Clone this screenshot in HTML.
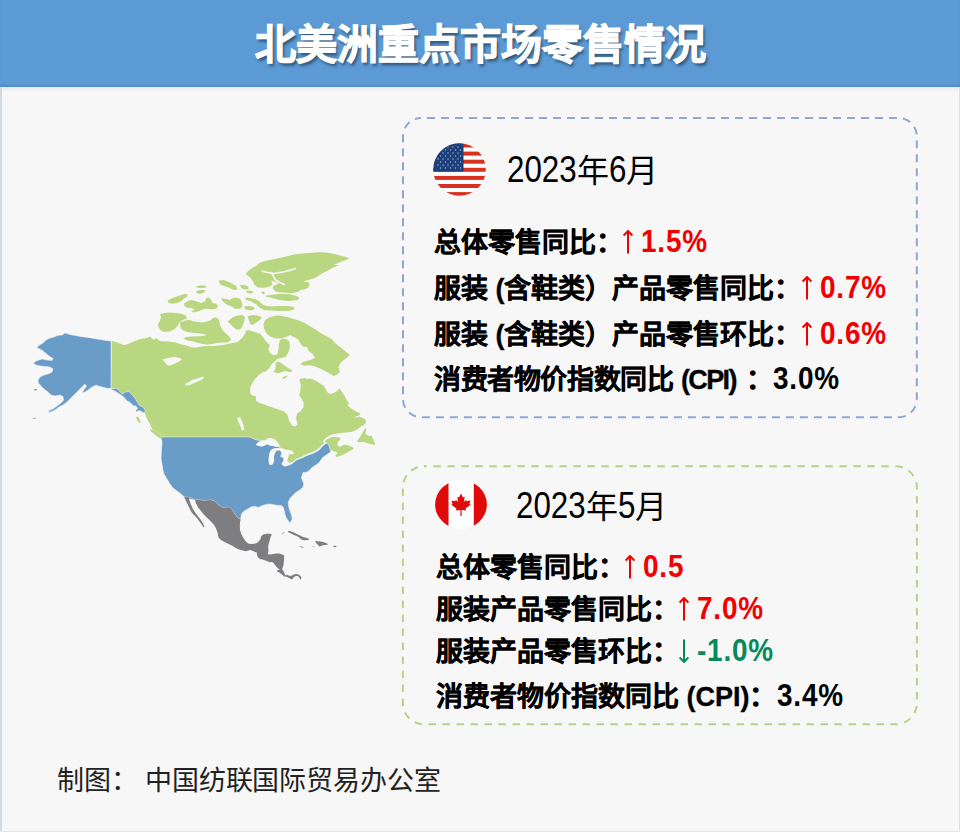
<!DOCTYPE html>
<html lang="zh-CN">
<head>
<meta charset="utf-8">
<style>
html,body{margin:0;padding:0;}
body{width:960px;height:832px;overflow:hidden;background:#f7f7f7;font-family:"Liberation Sans",sans-serif;position:relative;}
.map{position:absolute;left:0;top:0;}
.lstrip{position:absolute;left:0;top:87px;width:2px;height:745px;background:#d3dae4;}
.bstrip{position:absolute;left:0;top:831px;width:960px;height:1px;background:#e4e6ea;}
.rstrip{position:absolute;right:0;top:87px;width:1px;height:745px;background:#dcdfe4;}
.banner{position:absolute;left:0;top:0;width:960px;height:87px;background:#5b9ad5;box-shadow:inset 0 -2px 1px rgba(20,60,120,.12),0 1px 0 rgba(225,236,248,1),0 3px 3px rgba(0,0,0,.05);}
.title{position:absolute;left:0;top:2px;width:960px;height:86px;line-height:86px;text-align:center;color:#fff;font-weight:bold;font-size:41px;-webkit-text-stroke:1.1px #fff;text-shadow:2px 3px 3px rgba(0,0,0,.45);}
.cards{position:absolute;left:0;top:0;}
.flag{position:absolute;}
.date{position:absolute;font-size:32px;line-height:40px;color:#000;white-space:nowrap;}
.date .n{font-size:36px;display:inline-block;transform:scaleX(0.87);transform-origin:0 0;}
.date .n4{margin-right:-10.4px;}
.date .n1{margin-right:-2.6px;}
.ln{position:absolute;font-size:27px;line-height:40px;font-weight:bold;-webkit-text-stroke:0.3px currentColor;color:#000;white-space:nowrap;}
.ln .n{font-size:31px;letter-spacing:0.9px;-webkit-text-stroke:0;display:inline-block;transform:scaleX(0.9);transform-origin:0 0;}
.ln .p{letter-spacing:-1.6px;}
.ar{display:inline-block;width:10px;height:24px;margin:0 8px 0 0;vertical-align:-2px;}
.red{color:#f00000;}
.grn{color:#078a5b;}
.foot{position:absolute;top:761px;font-size:27px;line-height:40px;color:#222;white-space:nowrap;}
</style>
</head>
<body>
<div class="banner"></div>
<div class="title">北美洲重点市场零售情况</div>
<div class="lstrip"></div>
<div class="rstrip"></div>
<div class="bstrip"></div>
<svg class="map" width="960" height="832" viewBox="0 0 960 832">
<g fill="#b8d780" stroke="none">
<path d="M111.6,341.0 L116.0,342.0 L120.0,343.6 L124.0,345.0 L128.0,344.0 L131.0,342.4 L135.0,341.0 L139.0,339.6 L143.0,338.4 L147.0,338.0 L150.0,336.4 L152.0,338.4 L154.0,340.0 L156.0,338.0 L158.0,339.6 L160.0,341.0 L164.0,341.6 L168.0,341.2 L172.0,342.0 L176.0,342.4 L180.0,344.0 L184.0,345.0 L188.0,346.0 L191.2,347.5 L196.2,347.5 L202.5,346.2 L207.5,346.0 L212.5,346.2 L217.5,345.6 L222.5,345.0 L227.5,344.0 L232.5,343.1 L237.5,341.9 L242.5,337.5 L245.0,333.8 L246.2,330.6 L248.8,330.0 L252.5,331.2 L256.2,332.5 L260.0,333.8 L262.5,336.2 L265.0,340.0 L267.5,343.1 L270.0,345.0 L268.5,349.0 L270.0,353.0 L274.0,355.5 L277.5,354.0 L278.5,349.0 L278.8,344.0 L280.0,340.0 L283.0,338.5 L287.0,339.5 L289.5,342.0 L290.0,347.0 L288.5,352.0 L286.0,356.5 L283.4,357.5 L277.2,359.0 L272.5,363.2 L268.9,368.4 L265.7,371.4 L262.4,372.4 L259.2,374.6 L256.0,377.9 L252.7,382.2 L250.6,386.5 L250.0,391.9 L251.6,395.2 L256.0,396.2 L256.0,400.6 L259.2,402.7 L265.7,404.9 L271.1,407.1 L277.6,409.2 L284.1,411.4 L287.3,414.6 L288.9,420.1 L291.7,425.5 L294.9,426.5 L297.6,424.4 L296.0,417.9 L297.1,413.6 L300.3,411.4 L303.6,407.1 L303.6,402.7 L301.4,398.4 L299.2,395.2 L300.3,390.8 L300.9,385.4 L299.2,378.9 L305.7,377.9 L306.0,379.0 L310.0,378.4 L314.0,380.0 L318.0,382.0 L321.0,384.0 L324.0,386.0 L326.0,390.0 L328.0,393.0 L331.0,394.0 L334.0,393.0 L337.0,391.0 L339.0,389.0 L339.5,388.4 L341.1,390.6 L343.3,393.8 L345.4,397.6 L347.6,401.4 L349.2,403.5 L347.6,405.2 L349.8,407.3 L351.9,408.9 L354.1,410.6 L356.2,411.6 L358.9,412.7 L360.6,413.8 L358.9,415.4 L356.2,416.5 L353.6,418.1 L355.7,417.6 L358.9,416.5 L361.7,417.6 L364.4,418.7 L366.0,420.8 L365.4,423.6 L363.3,425.2 L360.6,426.8 L357.9,428.9 L355.2,430.6 L351.9,431.7 L348.7,432.2 L345.4,432.5 L342.2,432.7 L338.9,433.3 L335.7,433.8 L332.4,434.4 L329.8,435.4 L327.0,437.1 L324.3,439.2 L322.9,441.4 L330.7,451.2 L329.7,448.6 L328.6,445.0 L327.1,443.4 L324.5,444.0 L321.9,446.0 L319.8,448.6 L316.7,451.0 L312.5,453.1 L308.3,454.4 L304.0,456.4 L299.8,457.9 L296.7,459.5 L294.6,461.2 L291.5,463.3 L287.3,464.7 L284.2,463.1 L285.7,461.0 L286.2,455.8 L284.2,450.6 L279.5,447.5 L278.4,445.4 L276.0,444.5 L270.6,442.8 L265.6,440.8 L260.4,440.8 L256.2,439.8 L253.1,438.5 L250.0,437.0 L161.0,437.0 L163.0,436.0 L160.0,434.0 L156.0,432.0 L152.0,429.0 L150.0,424.0 L147.0,419.0 L145.0,414.0 L144.0,410.0 L145.1,412.3 L144.6,409.1 L142.5,407.0 L139.4,405.4 L137.3,402.3 L135.2,398.7 L132.1,395.0 L129.0,391.6 L125.8,391.9 L122.2,394.2 L118.5,390.3 L117.0,388.2 L111.2,388.8Z"/>
<path d="M324.7,441.6 L327.0,439.2 L329.8,437.9 L332.4,437.1 L335.7,436.9 L338.9,437.3 L340.6,438.7 L338.4,441.4 L337.3,443.6 L337.9,445.7 L340.0,446.8 L342.2,445.7 L344.4,444.6 L347.6,445.2 L349.8,446.3 L351.9,446.8 L353.6,448.4 L351.9,450.1 L349.8,451.1 L347.6,452.2 L345.4,453.3 L343.3,454.4 L341.1,455.5 L338.4,456.5 L336.8,457.1 L335.2,456.0 L336.2,454.4 L337.9,453.3 L335.7,451.7 L333.5,450.9 L331.4,450.6 L330.3,449.5 L329.2,446.8 L328.7,444.6 L327.0,443.6Z"/>
<path d="M356.8,441.4 L358.4,439.2 L360.6,436.0 L362.2,433.3 L363.8,430.6 L364.9,428.4 L366.0,427.3 L366.2,430.0 L365.4,432.7 L366.5,434.9 L369.2,436.0 L371.4,435.4 L372.5,437.6 L373.6,440.3 L375.2,443.6 L374.6,445.2 L372.5,444.6 L370.3,444.1 L368.1,443.6 L366.0,442.5 L363.8,441.9 L360.6,442.3 L358.4,442.3Z"/>
<path d="M150.0,429.0 L153.0,430.0 L158.0,433.0 L163.0,436.0 L166.0,439.0 L165.6,442.0 L162.4,440.0 L158.0,437.0 L153.6,433.6 L150.4,431.0Z"/>
<path d="M136.0,417.0 L138.0,416.4 L140.0,420.0 L141.0,423.0 L139.0,422.4 L137.0,420.0Z"/>
<path d="M160.0,314.0 L164.0,313.0 L170.0,312.4 L176.0,313.0 L182.0,314.0 L186.0,315.6 L187.0,318.4 L183.0,320.0 L180.0,322.0 L178.0,325.0 L176.0,328.0 L173.0,330.0 L169.0,331.6 L164.0,332.0 L161.0,330.4 L158.4,327.0 L158.0,324.0 L160.0,321.0 L161.0,317.0Z"/>
<path d="M180.0,322.5 L185.0,320.6 L190.0,320.0 L192.5,321.2 L197.5,321.9 L202.5,322.5 L207.5,321.2 L211.2,320.0 L212.5,318.1 L216.2,317.5 L218.8,319.4 L220.0,325.0 L222.5,330.0 L226.2,333.8 L230.0,337.5 L231.2,340.0 L227.5,342.5 L222.5,342.5 L217.5,343.1 L212.5,344.0 L207.5,344.4 L202.5,344.0 L197.5,342.8 L192.5,341.2 L187.5,340.6 L183.8,338.8 L185.6,336.9 L191.2,336.5 L200.0,336.2 L207.5,335.0 L202.5,333.8 L195.0,333.1 L187.5,331.9 L183.1,330.6 L180.6,328.1Z"/>
<path d="M167.5,300.6 L172.5,298.1 L177.5,296.2 L182.5,294.4 L186.9,293.8 L187.5,296.2 L183.8,298.8 L181.2,301.2 L177.5,303.1 L172.5,303.8 L168.8,303.1Z"/>
<path d="M183.8,303.8 L187.5,301.2 L191.2,300.0 L196.2,301.2 L201.2,303.1 L205.0,301.2 L206.2,298.1 L208.8,297.5 L211.2,300.0 L212.5,303.1 L216.2,303.8 L218.1,306.2 L216.2,308.8 L211.2,309.4 L206.2,308.8 L202.5,309.4 L198.8,311.2 L193.8,312.5 L191.2,311.2 L195.0,309.4 L191.2,308.1 L186.2,307.5 L184.4,305.6Z"/>
<path d="M195.0,286.9 L200.0,285.6 L205.0,285.6 L206.9,286.9 L203.8,288.1 L198.8,288.1Z"/>
<path d="M196.2,291.2 L200.0,290.0 L205.0,290.0 L204.4,292.5 L200.0,294.0 L196.9,293.1Z"/>
<path d="M256.5,265.5 L259.9,262.8 L264.5,261.2 L269.1,260.1 L274.8,258.9 L280.5,257.8 L286.2,256.5 L292.0,254.9 L297.7,254.1 L303.4,253.4 L309.2,253.0 L314.9,252.4 L320.6,252.2 L326.4,252.5 L332.1,253.6 L337.8,254.8 L343.5,256.5 L349.5,258.0 L346.4,259.7 L341.8,261.5 L337.2,263.5 L333.8,264.7 L338.4,264.9 L336.1,266.3 L331.5,268.6 L326.9,270.9 L322.7,273.1 L319.2,275.4 L315.8,277.5 L311.2,279.2 L306.6,280.4 L302.9,281.2 L308.6,282.3 L309.7,284.9 L308.2,287.6 L304.6,289.5 L300.2,290.1 L298.9,291.5 L295.4,292.6 L292.0,293.3 L288.5,293.0 L284.0,292.6 L279.4,292.2 L275.9,291.5 L273.6,289.5 L272.5,287.8 L273.6,285.8 L276.9,284.4 L278.8,283.2 L275.9,282.1 L272.5,280.9 L269.1,280.0 L263.9,278.6 L259.3,277.7 L255.3,276.6 L251.3,275.9 L247.9,275.4 L245.9,274.5 L247.1,272.0 L249.6,269.7 L253.0,267.4Z"/>
<path d="M246.7,274.6 L249.6,276.9 L253.0,280.9 L254.2,284.4 L257.6,287.2 L263.3,287.8 L269.1,286.7 L272.5,284.4 L271.4,280.9 L267.9,278.6 L263.3,276.9 L258.8,275.8 L254.2,275.4 L249.6,275.0Z"/>
<path d="M265.6,295.8 L270.2,294.9 L274.8,294.5 L279.4,294.1 L284.0,293.9 L288.5,294.1 L293.1,294.9 L297.7,296.4 L299.4,298.1 L297.7,299.9 L293.1,300.6 L288.5,301.0 L284.0,300.6 L279.4,299.9 L274.8,298.7 L270.2,297.6 L266.2,296.8Z"/>
<path d="M218.8,280.6 L223.8,280.0 L228.8,281.9 L232.5,283.8 L236.2,286.2 L237.5,289.4 L233.8,290.0 L228.8,287.5 L225.0,286.2 L221.2,285.0 L219.4,283.1Z"/>
<path d="M240.0,285.0 L243.8,284.8 L248.1,286.2 L248.8,288.8 L245.0,289.8 L241.2,288.1Z"/>
<path d="M221.2,298.1 L225.0,298.8 L230.0,300.0 L232.5,298.1 L236.2,297.5 L240.0,298.8 L241.9,302.5 L242.5,306.2 L240.0,308.8 L235.0,308.8 L231.2,306.2 L227.5,305.0 L225.0,303.1 L222.5,301.2Z"/>
<path d="M245.0,297.6 L250.0,298.0 L255.0,299.0 L259.0,301.0 L262.0,304.0 L266.0,306.0 L272.0,306.4 L280.0,306.0 L288.0,306.0 L294.0,307.0 L294.4,309.6 L288.0,311.0 L280.0,311.0 L272.0,310.6 L264.0,310.0 L260.0,308.0 L257.0,305.0 L254.0,303.0 L250.0,301.0 L246.0,300.0Z"/>
<path d="M244.0,306.4 L249.0,306.0 L254.0,307.0 L254.4,309.6 L250.0,310.4 L245.0,309.2Z"/>
<path d="M227.5,321.2 L232.5,317.5 L237.5,315.6 L242.5,315.0 L245.0,317.5 L243.8,322.5 L242.5,326.2 L240.0,329.4 L236.2,329.4 L232.5,326.2 L230.0,323.8Z"/>
<path d="M247.5,316.2 L252.5,315.0 L257.5,315.6 L261.9,316.9 L260.0,320.0 L256.2,322.5 L252.5,325.0 L250.0,323.8 L248.8,320.0Z"/>
<path d="M261.0,292.0 L263.6,291.6 L265.2,293.2 L263.0,294.4Z"/>
<path d="M246.0,291.0 L250.0,290.6 L254.0,292.0 L251.0,293.4 L247.0,293.0Z"/>
<path d="M265.0,320.0 L269.0,317.6 L274.0,316.0 L279.0,315.6 L284.0,316.4 L289.0,317.6 L294.0,319.0 L299.0,320.4 L303.6,322.4 L308.0,325.0 L313.0,328.0 L317.6,331.0 L322.4,334.0 L327.0,336.4 L331.6,339.0 L335.0,343.0 L340.0,347.0 L345.0,351.0 L350.0,355.0 L347.0,357.6 L343.0,360.4 L340.0,363.6 L338.4,367.6 L340.0,372.0 L337.0,374.4 L333.6,376.0 L330.4,374.0 L327.0,372.0 L323.0,370.0 L319.0,368.0 L315.0,366.4 L311.0,365.4 L307.0,365.4 L303.0,365.6 L300.4,364.0 L303.0,362.0 L307.6,360.8 L312.0,359.6 L315.0,357.6 L313.0,354.4 L309.6,351.6 L305.6,348.4 L302.0,345.6 L300.0,342.4 L297.6,339.0 L293.6,337.0 L290.0,335.0 L286.0,337.0 L281.0,338.5 L276.0,338.5 L270.0,336.5 L266.0,333.0 L264.0,328.0 L263.5,324.0Z"/>
<path d="M275.6,362.2 L278.8,361.7 L281.9,363.8 L285.0,365.8 L288.1,367.9 L291.8,370.0 L292.3,371.6 L289.2,372.1 L285.0,371.0 L281.9,372.1 L278.2,373.6 L275.1,372.6 L273.0,371.8 L275.1,370.0 L275.6,366.9Z"/>
<path d="M282.4,377.6 L285.0,376.0 L287.6,375.5 L287.1,376.8 L284.5,378.6 L282.9,378.9Z"/>
</g>
<g fill="#6a9cc8" stroke="#f7f7f7" stroke-width="0.5">
<path d="M111.0,341.0 L106.0,340.4 L100.0,339.6 L94.0,338.4 L88.0,337.4 L80.0,336.4 L76.0,335.6 L72.0,335.0 L67.0,333.6 L65.0,333.0 L62.0,335.0 L57.0,335.6 L54.0,337.0 L50.0,338.0 L46.0,340.0 L43.0,343.0 L38.0,346.0 L37.0,348.0 L40.0,349.0 L43.0,351.0 L46.0,353.6 L49.0,356.0 L53.0,358.4 L52.0,360.4 L47.0,360.0 L42.0,359.0 L39.0,360.0 L35.0,361.6 L33.6,363.6 L36.0,365.0 L40.0,366.0 L45.0,366.4 L50.0,367.0 L53.0,369.0 L52.0,372.0 L48.0,374.0 L44.0,375.0 L40.0,377.0 L38.0,380.0 L38.4,383.0 L41.0,386.0 L44.0,389.0 L48.0,392.0 L51.0,395.0 L55.0,396.0 L60.0,395.0 L63.0,396.4 L63.6,400.0 L61.0,403.0 L57.0,406.0 L53.0,409.0 L50.0,411.0 L48.0,412.0 L50.0,412.4 L55.0,410.0 L59.0,407.0 L63.0,405.0 L67.0,402.0 L70.0,399.0 L73.0,396.0 L76.0,393.0 L80.0,389.0 L83.0,386.0 L85.0,384.0 L86.4,386.4 L83.6,390.0 L82.4,393.0 L86.0,391.6 L90.0,388.4 L93.0,386.4 L96.0,385.2 L100.0,386.4 L104.0,387.6 L108.0,388.4 L111.0,388.4Z"/>
<path d="M111.2,388.7 L117.0,388.2 L118.7,390.3 L122.2,394.1 L125.8,391.8 L129.1,391.6 L132.2,395.0 L135.3,398.7 L137.4,402.3 L139.5,405.4 L142.6,407.0 L144.8,409.2 L145.2,412.3 L143.8,412.8 L141.5,411.4 L138.8,410.4 L136.8,411.9 L135.7,410.4 L137.8,408.3 L135.7,406.0 L133.1,405.7 L131.6,403.9 L129.5,402.1 L126.9,400.8 L123.8,397.1 L121.2,395.0 L118.0,392.9 L114.9,390.9 L111.8,389.8Z"/>
<path d="M161.0,437.0 L250.0,437.0 L253.1,438.5 L256.2,439.8 L260.4,440.8 L265.6,440.8 L270.6,442.8 L276.0,444.5 L278.4,445.4 L279.5,447.5 L284.2,450.6 L286.2,455.8 L285.7,461.0 L284.2,463.1 L287.3,464.7 L291.5,463.3 L294.6,461.2 L296.7,459.5 L299.8,457.9 L304.0,456.4 L308.3,454.4 L312.5,453.1 L316.7,451.0 L319.8,448.6 L321.9,446.0 L324.5,444.0 L327.1,443.4 L328.6,445.0 L329.7,448.6 L330.7,451.2 L330.2,452.3 L327.1,454.4 L324.0,456.5 L321.9,458.5 L319.8,461.7 L317.7,463.8 L314.6,465.8 L311.5,467.9 L308.9,470.9 L305.5,472.6 L303.0,472.6 L301.3,477.7 L303.8,483.6 L303.0,486.9 L300.5,489.4 L295.4,492.8 L290.4,497.9 L288.2,502.1 L288.7,507.1 L290.0,511.3 L291.7,515.5 L292.1,518.9 L290.8,522.2 L289.3,522.2 L286.4,518.0 L285.1,514.7 L284.2,510.5 L283.2,507.1 L281.1,505.4 L277.8,505.4 L273.8,504.8 L270.0,504.0 L266.2,504.4 L262.5,505.6 L260.0,506.5 L258.8,507.5 L256.9,506.9 L255.0,506.2 L251.2,506.9 L248.1,508.8 L245.0,510.6 L242.5,512.5 L241.2,515.0 L240.6,519.0 L240.6,519.4 L238.8,518.5 L236.9,516.9 L235.0,514.4 L233.1,511.2 L231.2,508.8 L228.8,507.1 L226.2,507.5 L223.8,508.1 L221.2,506.9 L218.8,505.0 L216.2,502.5 L213.8,500.8 L210.0,500.0 L205.0,500.5 L198.8,500.0 L195.0,499.5 L191.2,498.2 L187.5,497.1 L183.8,496.5 L181.0,494.0 L177.0,491.0 L173.0,488.0 L170.0,484.0 L167.0,479.0 L164.0,474.0 L163.0,470.0 L162.0,464.0 L161.0,458.0 L161.6,450.0 L162.0,442.0Z"/>
<ellipse cx="35.5" cy="389.8" rx="1.6" ry="0.8" stroke="none"/><path d="M32,419.3 L36,417.3 L35.2,418.8 Z" stroke="none"/><path d="M47.5,411.5 L52.5,408.8 L51,410.6 Z" stroke="none"/>
</g>
<g fill="#7e7e80" stroke="none">
<path d="M183.8,496.5 L187.5,497.1 L191.2,498.2 L195.0,499.5 L198.8,500.0 L205.0,500.5 L210.0,500.0 L213.8,500.8 L216.2,502.5 L218.8,505.0 L221.2,506.9 L223.8,508.1 L226.2,507.5 L228.8,507.1 L231.2,508.8 L233.1,511.2 L235.0,514.4 L236.9,516.9 L238.8,518.5 L240.6,519.4 L240.0,522.5 L239.8,526.2 L240.0,530.0 L241.2,533.8 L243.1,537.5 L245.6,541.2 L248.1,543.5 L251.2,544.0 L254.4,543.8 L256.9,543.1 L258.8,541.2 L260.6,538.8 L261.2,536.2 L263.1,534.4 L266.2,533.8 L270.0,533.8 L271.9,534.4 L270.9,536.2 L270.1,538.8 L269.5,541.2 L268.9,543.1 L268.4,545.0 L268.2,547.8 L268.5,550.6 L268.0,553.1 L267.5,554.1 L270.0,554.5 L273.1,553.9 L276.2,553.6 L279.4,553.6 L282.5,554.5 L284.1,555.6 L284.1,558.1 L283.9,561.2 L283.6,564.4 L282.8,567.5 L282.0,569.1 L283.1,570.6 L284.2,572.5 L284.9,574.4 L285.6,575.3 L287.5,575.1 L290.0,575.9 L291.9,575.6 L293.8,574.5 L295.6,573.9 L298.1,574.2 L300.0,575.5 L301.4,577.5 L300.9,579.5 L300.0,578.9 L299.2,577.5 L298.0,576.1 L296.2,575.9 L294.5,576.6 L293.1,578.2 L291.8,579.5 L290.0,578.6 L288.1,577.6 L286.6,576.8 L285.0,576.6 L284.2,576.4 L283.1,575.6 L281.2,573.9 L279.4,572.6 L277.5,571.7 L276.9,570.3 L280.0,569.5 L278.1,568.6 L276.2,566.4 L274.4,564.2 L273.2,562.6 L271.6,562.0 L269.5,562.2 L267.5,561.2 L265.3,560.6 L262.5,559.5 L260.0,558.9 L258.1,557.6 L257.4,556.2 L257.0,554.4 L256.8,552.5 L255.0,552.0 L252.5,550.8 L250.0,549.9 L246.2,551.2 L242.5,550.6 L238.8,549.4 L235.0,547.5 L231.9,545.6 L228.1,543.8 L224.4,541.9 L221.2,540.0 L218.8,538.1 L218.1,535.6 L217.5,532.5 L216.2,528.8 L214.4,525.6 L211.9,522.5 L209.4,520.0 L206.2,516.9 L203.1,513.8 L200.6,510.6 L198.1,507.5 L196.2,503.8 L195.0,500.0 L191.9,499.0 L189.0,498.5 L189.5,500.6 L190.5,503.5 L191.8,506.5 L193.2,509.4 L195.0,512.2 L197.1,515.0 L199.2,517.8 L201.2,520.5 L203.0,523.2 L204.4,526.2 L203.5,527.2 L201.9,524.8 L199.8,521.9 L197.5,518.8 L195.0,516.0 L192.5,513.5 L190.6,510.4 L189.0,507.2 L187.5,504.0 L186.0,500.9 L184.5,497.8Z"/>
<path d="M288.1,530.8 L290.6,531.2 L293.8,532.5 L296.9,534.1 L300.0,535.6 L303.1,536.9 L306.2,537.8 L309.1,539.1 L308.8,540.1 L305.0,540.3 L302.5,539.9 L300.9,538.9 L299.1,537.4 L296.6,536.1 L293.8,534.9 L290.6,533.2 L288.2,532.2Z"/>
<path d="M315.0,540.8 L317.5,541.2 L320.8,541.5 L324.2,542.3 L327.5,543.8 L327.9,544.8 L325.0,545.0 L321.7,545.4 L319.6,546.7 L318.8,545.8 L317.9,544.8 L316.7,543.8 L315.7,542.3Z"/>
<path d="M333.3,545.7 L335.4,545.8 L336.7,546.5 L335.8,547.1 L333.8,547.1 L333.2,546.5Z"/>
<path d="M299.6,546.2 L301.7,546.5 L303.8,547.3 L302.5,547.7 L300.4,547.1Z"/>
<path d="M311.7,546.5 L314.2,546.2 L315.0,546.7 L312.5,546.8Z"/>
<path d="M281.7,534.2 L284.2,531.7 L284.6,531.9 L282.1,534.4Z"/>
</g>
<g fill="#f7f7f7" stroke="none">
<path d="M162.0,359.6 L168.0,358.0 L174.0,357.0 L180.0,358.0 L182.0,359.6 L178.0,362.0 L174.0,364.0 L170.0,365.6 L167.0,365.0 L165.0,362.0Z"/>
<path d="M185.0,384.0 L189.0,382.0 L192.0,380.0 L196.0,379.0 L200.0,377.6 L204.0,376.4 L203.0,379.0 L199.0,381.0 L194.0,383.0 L190.0,385.0 L186.0,385.6Z"/>
<path d="M237.0,418.0 L240.0,417.0 L242.0,421.0 L243.6,426.0 L244.4,430.0 L242.0,430.4 L240.4,426.0 L238.4,422.0Z"/>
<path d="M256.0,444.6 L257.1,443.1 L258.9,441.7 L261.0,440.8 L263.3,440.6 L265.4,440.2 L267.0,438.9 L268.6,438.0 L270.6,437.9 L273.0,438.4 L275.1,439.6 L276.6,441.0 L277.9,442.8 L279.1,444.6 L279.7,446.2 L279.0,447.1 L276.9,446.9 L274.8,446.4 L272.7,446.0 L270.6,445.9 L269.1,445.2 L267.8,444.6 L265.9,444.9 L264.1,445.7 L262.3,446.5 L260.2,446.4 L258.1,445.7 L256.6,445.4Z"/>
<path d="M269.1,464.2 L268.5,461.0 L268.6,457.9 L269.0,454.8 L269.6,452.4 L270.6,450.4 L272.2,449.1 L274.3,448.3 L276.4,448.0 L278.4,447.9 L280.0,447.8 L282.1,448.3 L284.2,449.1 L286.2,449.8 L288.3,450.1 L290.4,450.4 L292.0,450.6 L293.3,452.2 L293.8,453.8 L292.5,454.3 L290.9,454.0 L289.4,453.8 L288.9,454.8 L288.3,456.9 L287.8,459.0 L287.3,461.0 L289.4,463.1 L291.5,462.6 L293.5,461.6 L295.1,460.0 L296.7,458.7 L298.8,457.9 L300.8,457.1 L302.9,456.4 L304.2,455.8 L304.6,457.1 L301.9,458.3 L299.8,459.1 L297.7,459.7 L296.1,460.4 L295.1,461.3 L293.8,462.6 L292.0,463.9 L289.9,464.9 L287.8,465.8 L285.7,466.4 L283.6,466.1 L282.1,464.9 L281.6,463.4 L282.1,462.3 L283.1,461.6 L283.5,459.5 L283.1,457.9 L282.1,457.1 L281.0,457.4 L280.4,456.4 L280.8,455.1 L281.3,454.0 L281.3,452.7 L280.8,451.4 L279.7,450.6 L278.4,450.4 L277.1,450.6 L275.8,451.4 L275.1,453.0 L274.4,455.1 L274.0,457.4 L274.2,459.5 L273.9,461.8 L273.0,463.9 L271.7,464.9 L270.1,464.9Z"/>
<path d="M302.4,348.0 L305.0,346.4 L308.0,348.0 L307.6,351.0 L304.4,351.6Z"/>
</g>
<g fill="none" stroke="#f7f7f7" stroke-width="1.6" stroke-linecap="round" stroke-linejoin="round">
<path d="M262.2,271.2 L267.9,272.5 L272.5,273.5 L278.2,272.9 L284.0,271.8 L289.7,270.4 L295.4,268.6"/>
<path d="M271.6,272.5 L273.4,276.4 L275.7,280.0 L279.4,282.3 L284.5,284.4"/>
<path d="M303.6,456.2 L308.3,454.5 L312.5,453.0 L316.7,450.9 L319.8,448.5 L321.9,445.9 L324.2,443.9"/>
</g>
</svg>
<svg class="cards" width="960" height="832" viewBox="0 0 960 832">
<rect x="403" y="118.1" width="513.8" height="299.1" rx="18" ry="18" fill="none" stroke="#8ea8d2" stroke-width="2" stroke-dasharray="8 6" stroke-dashoffset="-6"/>
<rect x="402.9" y="466.3" width="514" height="258" rx="21" ry="21" fill="none" stroke="#b5d486" stroke-width="2" stroke-dasharray="7.5 6.5" stroke-dashoffset="-9.5"/>
</svg>

<svg class="flag" style="left:433px;top:143px;" width="53" height="53" viewBox="0 0 53 53">
<defs><clipPath id="cu"><circle cx="26.5" cy="26.5" r="26.3"/></clipPath></defs>
<g clip-path="url(#cu)">
<rect width="53" height="53" fill="#fff"/>
<g fill="#d8311f">
<rect y="0.5" width="53" height="4"/>
<rect y="8.6" width="53" height="4"/>
<rect y="16.7" width="53" height="4"/>
<rect y="24.8" width="53" height="4"/>
<rect y="32.9" width="53" height="4"/>
<rect y="41" width="53" height="4"/>
<rect y="49.1" width="53" height="4"/>
</g>
<rect width="30.5" height="28.6" fill="#1d3f7c"/>
<g fill="#fff" opacity=".65">
<circle cx="5" cy="4" r=".7"/><circle cx="10" cy="4" r=".7"/><circle cx="15" cy="4" r=".7"/><circle cx="20" cy="4" r=".7"/><circle cx="25" cy="4" r=".7"/>
<circle cx="7.5" cy="7" r=".7"/><circle cx="12.5" cy="7" r=".7"/><circle cx="17.5" cy="7" r=".7"/><circle cx="22.5" cy="7" r=".7"/><circle cx="27.5" cy="7" r=".7"/>
<circle cx="5" cy="10" r=".7"/><circle cx="10" cy="10" r=".7"/><circle cx="15" cy="10" r=".7"/><circle cx="20" cy="10" r=".7"/><circle cx="25" cy="10" r=".7"/>
<circle cx="7.5" cy="13" r=".7"/><circle cx="12.5" cy="13" r=".7"/><circle cx="17.5" cy="13" r=".7"/><circle cx="22.5" cy="13" r=".7"/><circle cx="27.5" cy="13" r=".7"/>
<circle cx="5" cy="16" r=".7"/><circle cx="10" cy="16" r=".7"/><circle cx="15" cy="16" r=".7"/><circle cx="20" cy="16" r=".7"/><circle cx="25" cy="16" r=".7"/>
<circle cx="7.5" cy="19" r=".7"/><circle cx="12.5" cy="19" r=".7"/><circle cx="17.5" cy="19" r=".7"/><circle cx="22.5" cy="19" r=".7"/><circle cx="27.5" cy="19" r=".7"/>
<circle cx="5" cy="22" r=".7"/><circle cx="10" cy="22" r=".7"/><circle cx="15" cy="22" r=".7"/><circle cx="20" cy="22" r=".7"/><circle cx="25" cy="22" r=".7"/>
<circle cx="7.5" cy="25" r=".7"/><circle cx="12.5" cy="25" r=".7"/><circle cx="17.5" cy="25" r=".7"/><circle cx="22.5" cy="25" r=".7"/><circle cx="27.5" cy="25" r=".7"/>
</g>
</g>
</svg>
<div class="date" style="left:507px;top:150px;"><span class="n n4">2023</span>年<span class="n n1">6</span>月</div>
<div class="ln" style="left:434px;top:222px;">总体零售同比：<span class="red"><svg class="ar" viewBox="0 0 10 24"><path d="M5,1 V23.5 M0.6,5.6 L5,1 L9.4,5.6" fill="none" stroke="currentColor" stroke-width="2"/></svg><span class="n">1.5%</span></span></div>
<div class="ln" style="left:434px;top:268px;">服装 (含鞋类）产品零售同比：<span class="red"><svg class="ar" viewBox="0 0 10 24"><path d="M5,1 V23.5 M0.6,5.6 L5,1 L9.4,5.6" fill="none" stroke="currentColor" stroke-width="2"/></svg><span class="n">0.7%</span></span></div>
<div class="ln" style="left:434px;top:314px;">服装 (含鞋类）产品零售环比：<span class="red"><svg class="ar" viewBox="0 0 10 24"><path d="M5,1 V23.5 M0.6,5.6 L5,1 L9.4,5.6" fill="none" stroke="currentColor" stroke-width="2"/></svg><span class="n">0.6%</span></span></div>
<div class="ln" style="left:434px;top:359px;"><span style="letter-spacing:-0.4px">消费者物价指数同比</span> <span class="p">(CPI)</span> <span style="margin-left:3px">：</span><span class="n">3.0%</span></div>

<svg class="flag" style="left:435px;top:480px;" width="52" height="49" viewBox="0 0 52 49">
<defs><clipPath id="cc"><ellipse cx="26" cy="24.5" rx="25.9" ry="24.4"/></clipPath></defs>
<g clip-path="url(#cc)">
<rect width="52" height="49" fill="#fff"/>
<rect width="13.5" height="49" fill="#e10a0a"/>
<rect x="38.8" width="13.5" height="49" fill="#e10a0a"/>
<path fill="#e10a0a" d="M26,13.5 L24,17.5 L22.3,16.8 L23.2,22 L20.8,19.8 L20.3,21.2 L16.5,20.5 L17.6,24 L16.2,24.7 L21.5,28.6 L20.8,30.5 L25.4,30 L25.4,36 L26.6,36 L26.6,30 L31.2,30.5 L30.5,28.6 L35.8,24.7 L34.4,24 L35.5,20.5 L31.7,21.2 L31.2,19.8 L28.8,22 L29.7,16.8 L28,17.5 Z"/>
</g>
</svg>
<div class="date" style="left:516px;top:486px;"><span class="n n4">2023</span>年<span class="n n1">5</span>月</div>
<div class="ln" style="left:436px;top:547px;">总体零售同比：<span class="red"><svg class="ar" viewBox="0 0 10 24"><path d="M5,1 V23.5 M0.6,5.6 L5,1 L9.4,5.6" fill="none" stroke="currentColor" stroke-width="2"/></svg><span class="n">0.5</span></span></div>
<div class="ln" style="left:436px;top:589px;">服装产品零售同比：<span class="red"><svg class="ar" viewBox="0 0 10 24"><path d="M5,1 V23.5 M0.6,5.6 L5,1 L9.4,5.6" fill="none" stroke="currentColor" stroke-width="2"/></svg><span class="n">7.0%</span></span></div>
<div class="ln" style="left:436px;top:631px;">服装产品零售环比：<span class="grn"><svg class="ar" viewBox="0 0 10 24"><path d="M5,0.5 V23 M0.6,18.4 L5,23 L9.4,18.4" fill="none" stroke="currentColor" stroke-width="2"/></svg><span class="n">-1.0%</span></span></div>
<div class="ln" style="left:436px;top:676px;">消费者物价指数同比 (CPI)：<span class="n">3.4%</span></div>

<div class="foot" style="left:57px;">制图：</div><div class="foot" style="left:145px;letter-spacing:-0.15px;">中国纺联国际贸易办公室</div>
</body>
</html>
